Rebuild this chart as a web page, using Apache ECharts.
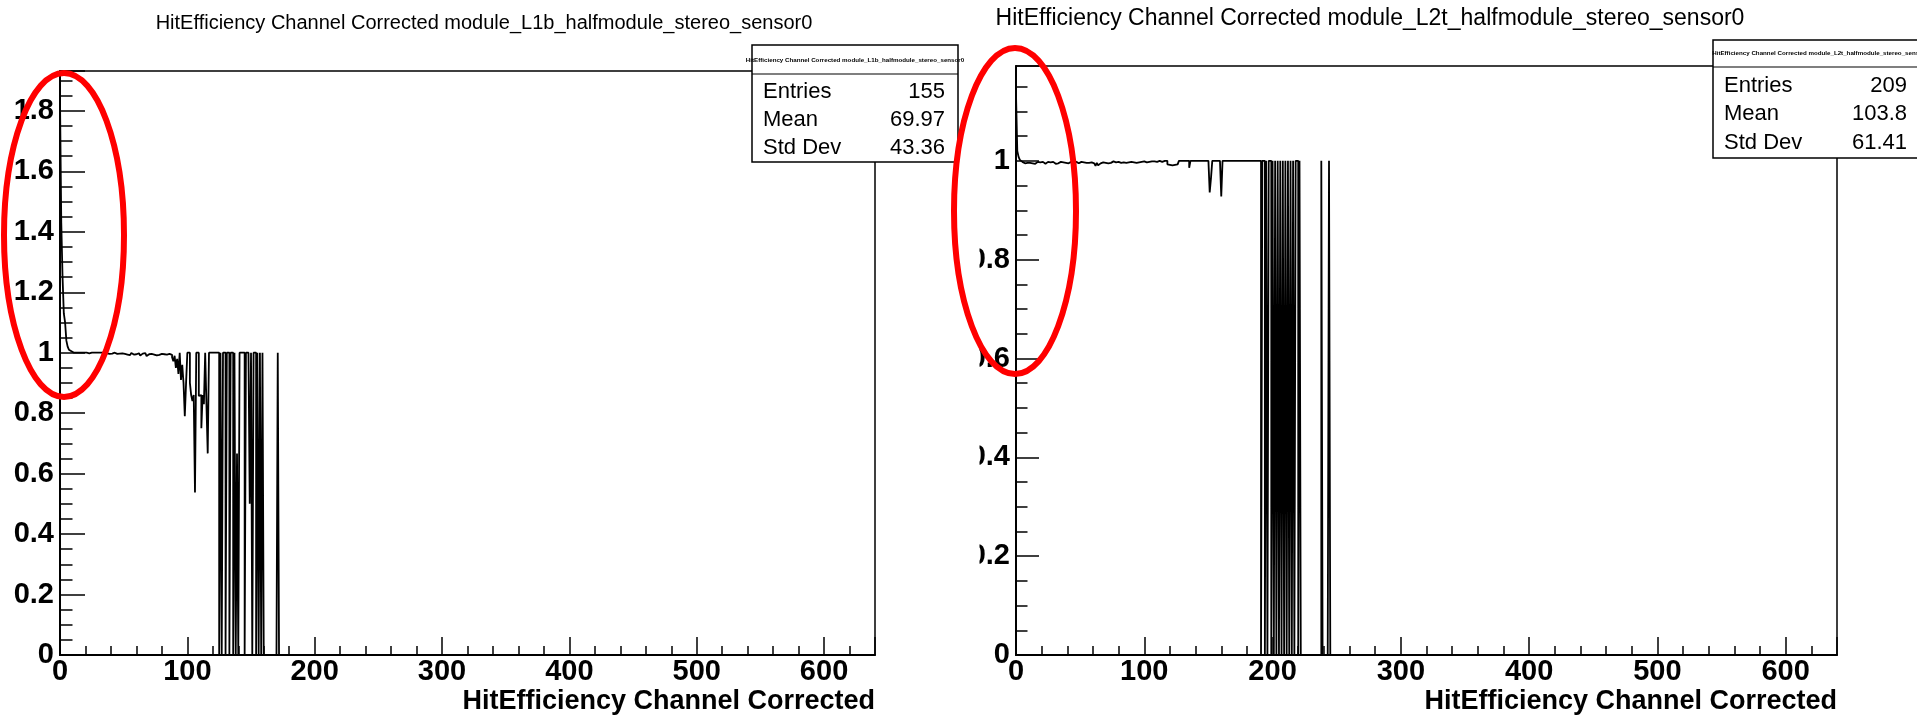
<!DOCTYPE html>
<html>
<head>
<meta charset="utf-8">
<script src="https://cdn.jsdelivr.net/npm/echarts@6/dist/echarts.min.js"></script>
<style>
  html, body { margin: 0; padding: 0; background: #fff; }
  #chart { width: 1917px; height: 715px; }
</style>
</head>
<body>
<div id="chart"></div>
<script>
// Per-channel hit efficiency; bin i covers channel [i, i+1)
const effL1b = [
  1.84, 1.43, 1.25, 1.13, 1.10, 1.04, 1.02, 1.01, 1.005,
  1, 1, 1, 1, 1, 1, 1, 1, 1, 1, 1,
  1, 1, 0.998, 1, 1, 0.997, 1, 1, 1, 0.996,
  1, 1, 1, 0.997, 1, 0.995, 0.998, 1, 0.996, 0.993,
  0.997, 0.995, 1, 0.994, 0.996, 0.992, 0.997, 0.995, 0.998, 0.993,
  0.996, 0.998, 0.994, 0.997, 0.992, 0.996, 0.999, 0.994, 0.997, 0.995,
  0.993, 0.998, 0.996, 0.991, 0.997, 0.994, 0.999, 0.993, 0.989, 0.995,
  0.992, 0.996, 0.99, 0.994, 0.997, 0.991, 0.995, 0.993, 0.99, 0.996,
  0.992, 0.995, 0.989, 0.994, 0.991, 0.996, 0.99, 0.993,
  0.985, 0.972, 0.99, 0.95, 0.98, 0.93, 1, 0.91, 0.96, 0.9, 0.79, 0.9,
  1, 1, 0.9, 0.86, 0.84, 0.86, 0.538, 1, 1, 0.857, 0.86, 0.75, 0.86, 0.83, 1, 0.83, 0.667,
  1, 1, 1, 1, 1, 1, 1, 1,
  0, 1, 0, 1, 1, 0, 1, 1, 0, 1, 1,
  0, 1, 0, 0.667, 0, 1, 1, 1, 1, 0, 1, 1, 1, 0.5,
  1, 0, 1, 1, 0, 1, 0, 1, 0, 1,
  0, 0, 0, 0, 0, 0, 0, 0, 0, 0, 0, 1, 0
];

const effL2t = [
  1.135, 1.02, 1.008, 1.002,
  0.998, 0.997, 0.995, 0.997, 0.996, 0.994, 0.996, 0.993, 0.995, 0.997, 0.994, 0.996,
  0.998, 0.996, 0.997, 0.995, 0.998, 0.996, 0.994, 0.997, 0.998, 0.995, 0.997, 0.996, 0.998, 0.996, 0.994,
  0.997, 0.995, 0.997, 0.998, 0.996, 0.997, 0.998, 0.996, 0.997, 0.995, 0.997, 0.998, 0.996, 0.997, 0.996,
  0.998, 0.997, 0.995, 0.997, 0.998, 0.996, 0.997, 0.998, 0.996, 0.997, 0.996, 0.998, 0.997, 0.996, 0.995,
  0.992, 0.99, 0.996, 0.991, 0.995, 0.993, 0.997, 0.998, 0.996, 0.997,
  0.995, 0.998, 0.996, 0.997, 0.999, 0.996, 0.997, 0.995, 0.998, 0.997, 0.996, 0.998, 0.997, 0.999, 0.996,
  0.998, 0.997, 0.996, 0.998, 0.999, 0.997, 0.998, 0.996, 0.998, 0.997, 0.999, 0.998, 0.997, 0.999, 0.998,
  0.997, 0.999, 0.998, 0.997, 0.999, 0.998, 0.999, 0.997, 0.998, 0.999, 1, 0.999, 0.998, 0.999, 1,
  0.998, 1, 0.993, 0.992, 0.993, 0.991, 0.994, 0.992, 0.995, 0.993, 0.997,
  1, 1, 1, 1, 1, 1, 1, 1,
  0.986,
  1, 1, 1, 1, 1, 1, 1, 1, 1, 1, 1, 1, 1, 1, 1,
  0.936, 0.965,
  1, 1, 1, 1, 1, 1, 1,
  0.928,
  1, 1, 1, 1, 1, 1, 1, 1, 1, 1, 1, 1, 1, 1, 1, 1, 1, 1, 1, 1, 1, 1, 1, 1, 1, 1, 1, 1, 1, 1,
  0, 1, 1, 0, 1, 0, 1, 1, 0, 1, 0, 1, 0, 1, 0, 1, 0, 1, 0, 1, 0, 1, 0, 1, 0, 1, 0, 1, 1, 0, 1,
  0, 0, 0, 0, 0, 0, 0, 0, 0, 0, 0, 0, 0, 0, 0, 0,
  1,
  0, 0, 0, 0, 0,
  1,
  0
];

const titleL1b = 'HitEfficiency Channel Corrected module_L1b_halfmodule_stereo_sensor0';
const titleL2t = 'HitEfficiency Channel Corrected module_L2t_halfmodule_stereo_sensor0';
const xTitle = 'HitEfficiency Channel Corrected';
const statsL1b = [['Entries', '155'], ['Mean', '69.97'], ['Std Dev', '43.36']];
const statsL2t = [['Entries', '209'], ['Mean', '103.8'], ['Std Dev', '61.41']];
const channelRange = [0, 640];

const FONT = '"Liberation Sans", Arial, Helvetica, sans-serif';
const TICK_FONT = 29;

// histogram outline: one point per bin edge, drawn as a step line
function histPoints(vals) {
  const pts = vals.map((v, i) => [i, v]);
  pts.push([vals.length, vals[vals.length - 1]]);
  return pts;
}
// frame top sits 5% above the tallest bin
function frameMax(vals) {
  return Math.round(Math.max.apply(null, vals) * 1.05 * 1000) / 1000;
}

function xAxisFor(gridIndex) {
  return {
    type: 'value', gridIndex: gridIndex,
    min: channelRange[0], max: channelRange[1], interval: 100,
    axisLine: { lineStyle: { color: '#000', width: 2 } },
    axisTick: { inside: true, length: 18, lineStyle: { color: '#000', width: 1.5 } },
    minorTick: { show: true, splitNumber: 5, length: 9, lineStyle: { color: '#000', width: 1.5 } },
    splitLine: { show: false },
    axisLabel: { showMaxLabel: false, showMinLabel: true, hideOverlap: false, margin: 2, color: '#000',
      fontFamily: FONT, fontWeight: 'bold', fontSize: TICK_FONT },
    name: xTitle, nameLocation: 'end', nameGap: 0, nameMoveOverlap: false,
    nameTextStyle: { color: '#000', fontFamily: FONT, fontWeight: 'bold', fontSize: 27,
      align: 'right', verticalAlign: 'top', padding: [33, 0, 0, 0] }
  };
}
function yAxisFor(gridIndex, maxVal, tickLen) {
  return {
    type: 'value', gridIndex: gridIndex, min: 0, max: maxVal, interval: 0.2,
    axisLine: { lineStyle: { color: '#000', width: 2 } },
    axisTick: { inside: true, length: tickLen, lineStyle: { color: '#000', width: 1.5 } },
    minorTick: { show: true, splitNumber: 4, length: tickLen / 2, lineStyle: { color: '#000', width: 1.5 } },
    splitLine: { show: false },
    axisLabel: { showMaxLabel: false, showMinLabel: true, hideOverlap: false, margin: 6, color: '#000',
      fontFamily: FONT, fontWeight: 'bold', fontSize: TICK_FONT }
  };
}

function statsBox(box, header, rows) {
  const els = [
    { type: 'rect', shape: { x: box.x, y: box.y, width: box.w, height: box.h },
      style: { fill: '#fff', stroke: '#000', lineWidth: 1.5 }, z: 100 },
    { type: 'line', shape: { x1: box.x, y1: box.sep, x2: box.x + box.w, y2: box.sep },
      style: { stroke: '#000', lineWidth: 1.2 }, z: 101 },
    { type: 'text', x: box.x + box.w / 2, y: box.headY, z: 101,
      style: { text: header, fill: '#000', font: 'bold 6.2px ' + FONT, align: 'center', verticalAlign: 'middle' } }
  ];
  rows.forEach((r, i) => {
    els.push({ type: 'text', x: box.labelX, y: box.rowY[i], z: 101,
      style: { text: r[0], fill: '#000', font: '22px ' + FONT, align: 'left', verticalAlign: 'middle' } });
    els.push({ type: 'text', x: box.valueX, y: box.rowY[i], z: 101,
      style: { text: r[1], fill: '#000', font: '22px ' + FONT, align: 'right', verticalAlign: 'middle' } });
  });
  return els;
}

const chart = echarts.init(document.getElementById('chart'), null, { renderer: 'canvas' });

const gridBase = { show: true, borderColor: '#000', borderWidth: 1.5, containLabel: false, outerBoundsMode: 'none' };

chart.setOption({
  animation: false,
  backgroundColor: '#fff',
  title: [
    { text: titleL1b, left: 484, top: 13, textAlign: 'center', padding: 0,
      textStyle: { color: '#000', fontFamily: FONT, fontWeight: 'normal', fontSize: 20 } },
    { text: titleL2t, left: 1370, top: 7, textAlign: 'center', padding: 0,
      textStyle: { color: '#000', fontFamily: FONT, fontWeight: 'normal', fontSize: 23 } }
  ],
  grid: [
    Object.assign({ left: 60, top: 71, width: 815, height: 584 }, gridBase),
    Object.assign({ left: 1016, top: 66, width: 821, height: 589 }, gridBase)
  ],
  xAxis: [xAxisFor(0), xAxisFor(1)],
  yAxis: [yAxisFor(0, frameMax(effL1b), 25), yAxisFor(1, frameMax(effL2t), 23)],
  series: [
    { type: 'line', xAxisIndex: 0, yAxisIndex: 0, step: 'end', showSymbol: false, symbol: 'none',
      data: histPoints(effL1b), lineStyle: { color: '#000', width: 1.8 }, z: 5 },
    { type: 'line', xAxisIndex: 1, yAxisIndex: 1, step: 'end', showSymbol: false, symbol: 'none',
      data: histPoints(effL2t), lineStyle: { color: '#000', width: 1.8 }, z: 5 }
  ],
  graphic: [].concat(
    // the right pad's y labels are clipped at the pad's left edge
    [{ type: 'rect', shape: { x: 959, y: 140, width: 20.5, height: 490 }, style: { fill: '#fff' }, z: 50 }],
    statsBox({ x: 752, y: 45, w: 206, h: 117, sep: 74, headY: 60, labelX: 763, valueX: 945,
      rowY: [91.5, 119.8, 148.3] }, titleL1b, statsL1b),
    statsBox({ x: 1713, y: 40, w: 215, h: 118, sep: 67, headY: 53, labelX: 1724, valueX: 1907,
      rowY: [86.3, 114.3, 143] }, titleL2t, statsL2t),
    [
      { type: 'ellipse', shape: { cx: 64, cy: 235, rx: 60, ry: 162 },
        style: { fill: 'none', stroke: '#f00', lineWidth: 6 }, z: 200 },
      { type: 'ellipse', shape: { cx: 1015, cy: 211, rx: 61, ry: 163 },
        style: { fill: 'none', stroke: '#f00', lineWidth: 6 }, z: 200 }
    ]
  )
});
</script>
</body>
</html>
